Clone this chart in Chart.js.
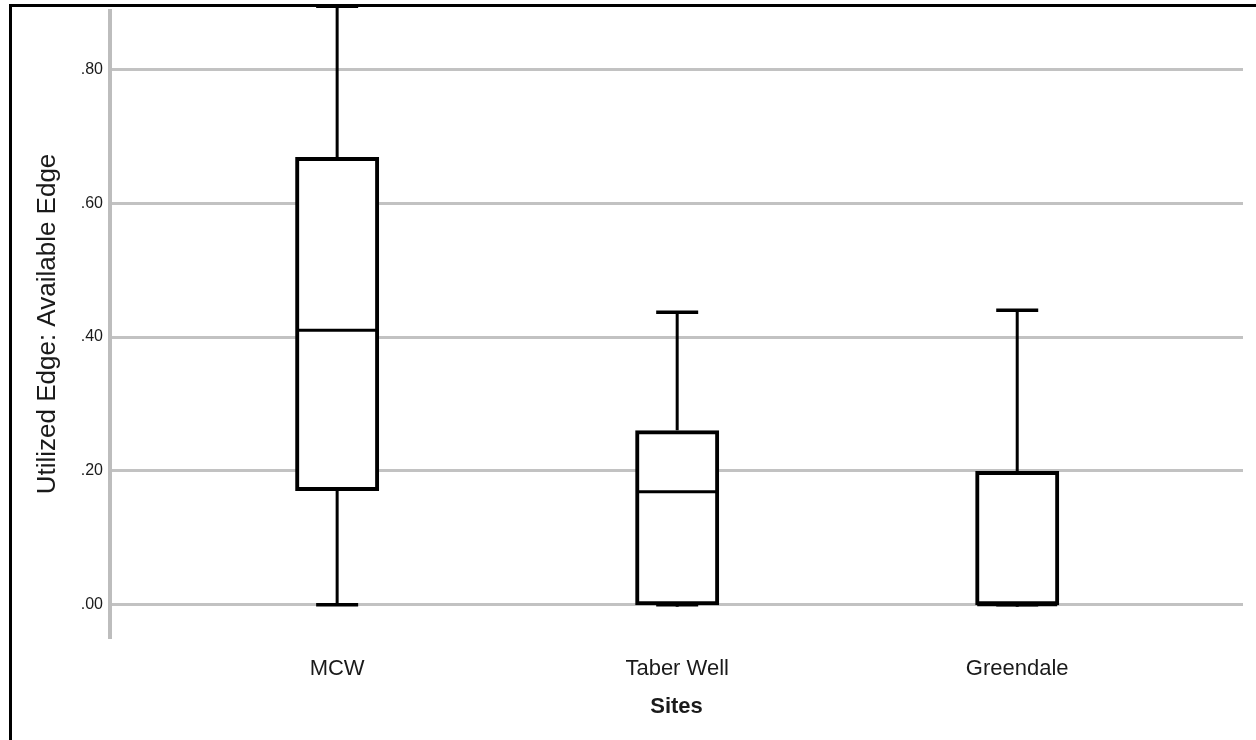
<!DOCTYPE html>
<html>
<head>
<meta charset="utf-8">
<title>Utilized Edge: Available Edge by site</title>
<script src="https://cdn.jsdelivr.net/npm/chart.js@4.4.0/dist/chart.umd.min.js"></script>
<style>
  html, body { margin: 0; padding: 0; background: #fff; overflow: hidden; }
  #wrap { position: relative; width: 1256px; height: 740px; overflow: hidden; }
  #frame {
    position: absolute; left: 9px; top: 4px; width: 1300px; height: 800px;
    border-left: 3px solid #000; border-top: 3px solid #000; pointer-events: none;
  }
</style>
</head>
<body>
<div id="wrap">
  <canvas id="myChart" width="1256" height="740"></canvas>
  <div id="frame"></div>
</div>
<script>
// box plot values
const sites = ['MCW', 'Taber Well', 'Greendale'];
const minValues = [0, 0, 0];
const q1Values = [0.173, 0, 0];
const medianValues = [0.410, 0.169, 0];
const q3Values = [0.666, 0.258, 0.197];
const maxValues = [0.894, 0.437, 0.440];
const yTickValues = [0, 0.2, 0.4, 0.6, 0.8];

const textColor = '#1a1a1a';
const gridColor = '#c2c2c2';

function prepareData() {
    const boxes = sites.map((s, i) => ({ x: i, y: [q1Values[i], q3Values[i]] }));
    return {
        datasets: [{
            label: 'box',
            data: boxes,
            backgroundColor: '#ffffff',
            borderColor: '#000000',
            borderWidth: 4,
            borderSkipped: false,
            inflateAmount: 2,
            barThickness: 80
        }]
    };
}

// whiskers, caps and medians, placed through the chart scales
const whiskerPlugin = {
    id: 'whiskers',
    afterDatasetsDraw(chart) {
        const ctx = chart.ctx;
        const xs = chart.scales.x;
        const ys = chart.scales.y;
        const bars = chart.getDatasetMeta(0).data;
        ctx.save();
        ctx.strokeStyle = '#000';
        ctx.lineCap = 'butt';
        sites.forEach((s, i) => {
            const cx = xs.getPixelForValue(i);
            const half = bars[i].width / 2;
            const capHalf = 21;
            const yMin = ys.getPixelForValue(minValues[i]);
            const yMax = ys.getPixelForValue(maxValues[i]);
            const yQ1 = ys.getPixelForValue(q1Values[i]);
            const yQ3 = ys.getPixelForValue(q3Values[i]);
            const yMed = ys.getPixelForValue(medianValues[i]);

            ctx.lineWidth = 3;
            ctx.beginPath();
            ctx.moveTo(cx, yQ3 - 2);
            ctx.lineTo(cx, yMax);
            ctx.moveTo(cx, yQ1 + 2);
            ctx.lineTo(cx, yMin);
            ctx.stroke();

            ctx.lineWidth = 3.5;
            ctx.beginPath();
            ctx.moveTo(cx - capHalf, yMax);
            ctx.lineTo(cx + capHalf, yMax);
            ctx.moveTo(cx - capHalf, yMin);
            ctx.lineTo(cx + capHalf, yMin);
            ctx.stroke();

            ctx.lineWidth = 3;
            ctx.beginPath();
            ctx.moveTo(cx - half, yMed);
            ctx.lineTo(cx + half, yMed);
            ctx.stroke();
        });
        ctx.restore();
    }
};

function drawChart(data) {
    const ctx = document.getElementById('myChart').getContext('2d');
    new Chart(ctx, {
        type: 'bar',
        data: data,
        plugins: [whiskerPlugin],
        options: {
            responsive: false,
            animation: false,
            devicePixelRatio: 1,
            layout: { padding: { top: 11, right: 13, left: 0, bottom: 0 } },
            plugins: { legend: { display: false }, tooltip: { enabled: false } },
            scales: {
                x: {
                    type: 'linear',
                    offset: false,
                    min: -0.668,
                    max: 2.664,
                    grid: { display: false },
                    border: { display: false },
                    afterBuildTicks: scale => {
                        scale.ticks = sites.map((s, i) => ({ value: i }));
                    },
                    afterFit: scale => {
                        scale.height = 103;
                        scale.paddingLeft = 0;
                        scale.paddingRight = 0;
                    },
                    ticks: {
                        autoSkip: false,
                        maxRotation: 0,
                        padding: 11,
                        color: textColor,
                        font: { family: 'Liberation Sans', size: 22 },
                        callback: v => sites[v]
                    },
                    title: {
                        display: true,
                        text: 'Sites',
                        color: textColor,
                        padding: { top: 0, bottom: 20 },
                        font: { family: 'Liberation Sans', size: 22, weight: 'bold' }
                    }
                },
                y: {
                    min: -0.048,
                    max: 0.887,
                    afterBuildTicks: scale => {
                        scale.ticks = yTickValues.map(v => ({ value: v }));
                    },
                    afterFit: scale => {
                        scale.width = 110;
                        scale.paddingTop = 0;
                        scale.paddingBottom = 0;
                    },
                    grid: { color: gridColor, lineWidth: 3, drawTicks: false },
                    border: { display: true, color: '#bdbdbd', width: 4 },
                    ticks: {
                        padding: 7,
                        color: textColor,
                        font: { family: 'Liberation Sans', size: 16 },
                        callback: v => v.toFixed(2).replace(/^0/, '')
                    },
                    title: {
                        display: true,
                        text: 'Utilized Edge: Available Edge',
                        color: textColor,
                        padding: { top: 32, bottom: 0 },
                        font: { family: 'Liberation Sans', size: 26 }
                    }
                }
            }
        }
    });
}

drawChart(prepareData());
</script>
</body>
</html>
